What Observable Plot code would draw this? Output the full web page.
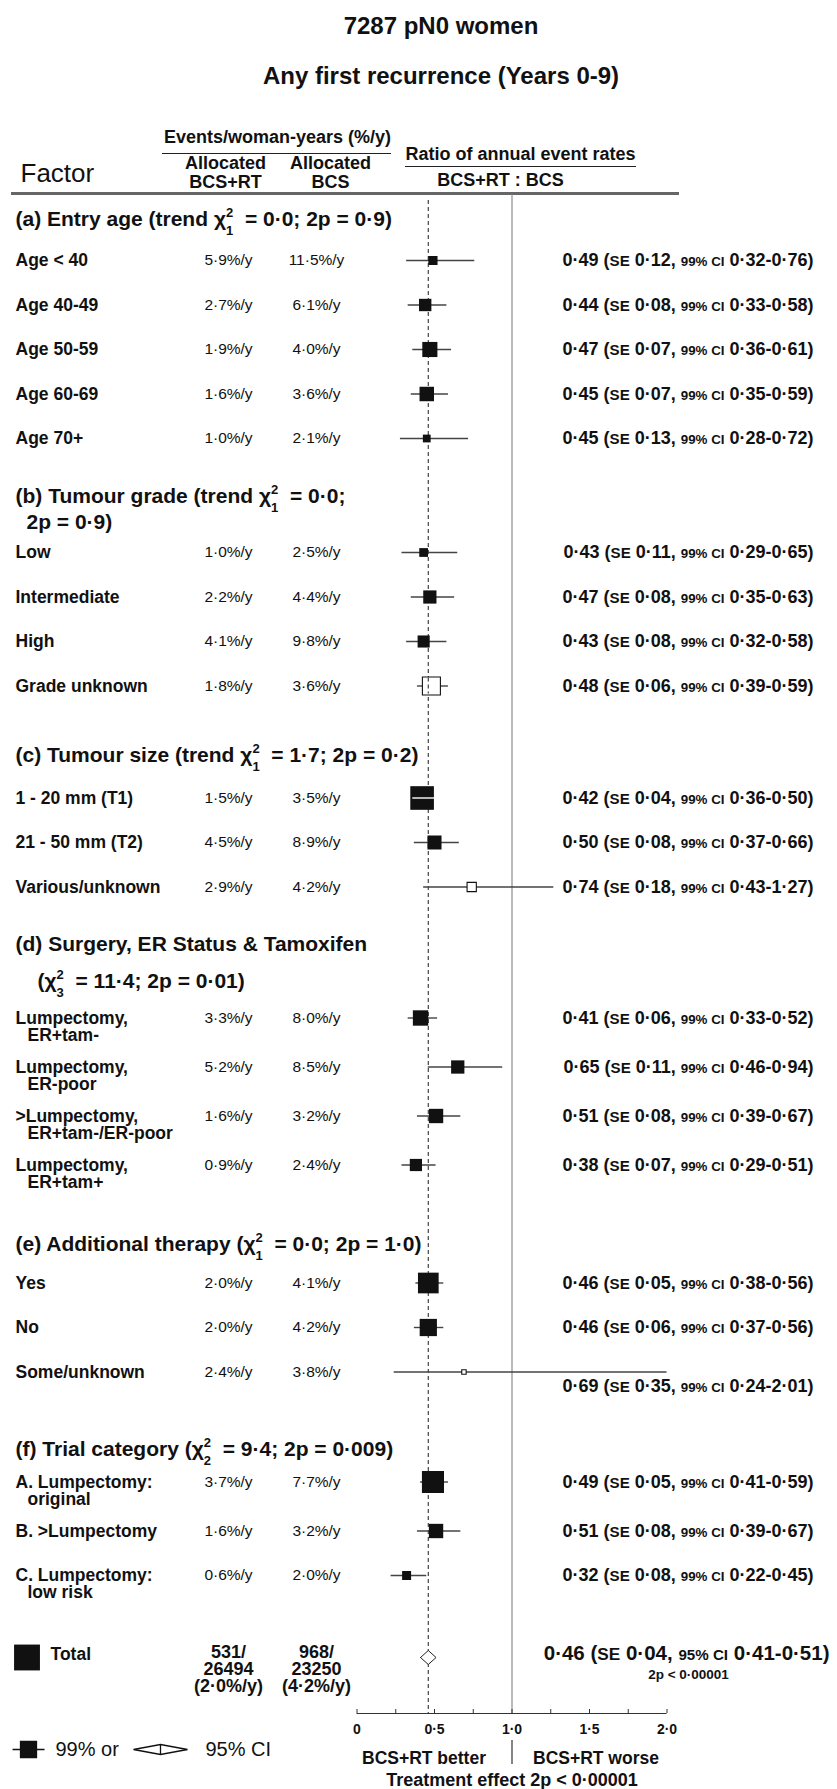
<!DOCTYPE html>
<html>
<head>
<meta charset="utf-8">
<script src="https://cdn.jsdelivr.net/npm/d3@7"></script>
<script src="https://cdn.jsdelivr.net/npm/@observablehq/plot@0.6"></script>
<style>
  body { margin: 0; background: #fff; font-family: "Liberation Sans", Arial, Helvetica, sans-serif; color: #111; }
  #titles { position: relative; width: 837px; height: 110px; }
  #titles div { position: absolute; left: 0; width: 837px; padding-left: 45px; box-sizing: border-box;
                text-align: center; font-weight: bold; line-height: 30px; }
  #chart svg { display: block; }
</style>
</head>
<body>
<div id="titles">
  <div style="top:11px;font-size:24px">7287 pN0 women</div>
  <div style="top:61px;font-size:24px">Any first recurrence (Years 0-9)</div>
</div>
<div id="chart"></div>
<script>
// ---------------- DATA ----------------
const headings = [
  ["(a) Entry age (trend χ{2,1}  = 0·0; 2p = 0·9)"],
  ["(b) Tumour grade (trend χ{2,1}  = 0·0;", "2p = 0·9)"],
  ["(c) Tumour size (trend χ{2,1}  = 1·7; 2p = 0·2)"],
  ["(d) Surgery, ER Status & Tamoxifen", "(χ{2,3}  = 11·4; 2p = 0·01)"],
  ["(e) Additional therapy (χ{2,1}  = 0·0; 2p = 1·0)"],
  ["(f) Trial category (χ{2,2}  = 9·4; 2p = 0·009)"]
];
const rowGroup = [0,0,0,0,0, 1,1,1,1, 2,2,2, 3,3,3,3, 4,4,4, 5,5,5];
const rowLabels = [
  ["Age < 40"], ["Age 40-49"], ["Age 50-59"], ["Age 60-69"], ["Age 70+"],
  ["Low"], ["Intermediate"], ["High"], ["Grade unknown"],
  ["1 - 20 mm (T1)"], ["21 - 50 mm (T2)"], ["Various/unknown"],
  ["Lumpectomy,", "ER+tam-"], ["Lumpectomy,", "ER-poor"], [">Lumpectomy,", "ER+tam-/ER-poor"], ["Lumpectomy,", "ER+tam+"],
  ["Yes"], ["No"], ["Some/unknown"],
  ["A. Lumpectomy:", "original"], ["B. >Lumpectomy"], ["C. Lumpectomy:", "low risk"]
];
const rateRT  = [5.9, 2.7, 1.9, 1.6, 1.0,  1.0, 2.2, 4.1, 1.8,  1.5, 4.5, 2.9,  3.3, 5.2, 1.6, 0.9,  2.0, 2.0, 2.4,  3.7, 1.6, 0.6];
const rateBCS = [11.5, 6.1, 4.0, 3.6, 2.1, 2.5, 4.4, 9.8, 3.6,  3.5, 8.9, 4.2,  8.0, 8.5, 3.2, 2.4,  4.1, 4.2, 3.8,  7.7, 3.2, 2.0];
const ratio   = [0.49, 0.44, 0.47, 0.45, 0.45, 0.43, 0.47, 0.43, 0.48, 0.42, 0.50, 0.74, 0.41, 0.65, 0.51, 0.38, 0.46, 0.46, 0.69, 0.49, 0.51, 0.32];
const se      = [0.12, 0.08, 0.07, 0.07, 0.13, 0.11, 0.08, 0.08, 0.06, 0.04, 0.08, 0.18, 0.06, 0.11, 0.08, 0.07, 0.05, 0.06, 0.35, 0.05, 0.08, 0.08];
const ciLo    = [0.32, 0.33, 0.36, 0.35, 0.28, 0.29, 0.35, 0.32, 0.39, 0.36, 0.37, 0.43, 0.33, 0.46, 0.39, 0.29, 0.38, 0.37, 0.24, 0.41, 0.39, 0.22];
const ciHi    = [0.76, 0.58, 0.61, 0.59, 0.72, 0.65, 0.63, 0.58, 0.59, 0.50, 0.66, 1.27, 0.52, 0.94, 0.67, 0.51, 0.56, 0.56, 2.01, 0.59, 0.67, 0.45];

const totalEvents = [531, 968];
const totalWomanYears = [26494, 23250];
const totalRate = [2.0, 4.2];
const totalRatio = 0.46, totalSE = 0.04, totalLo = 0.41, totalHi = 0.51;
const totalP = "2p < 0·00001";
const treatmentP = "Treatment effect 2p < 0·00001";

const tickValues = [0, 0.5, 1, 1.5, 2];
const tickLabels = ["0", "0·5", "1·0", "1·5", "2·0"];
const minorTicks = [0, 0.25, 0.5, 0.75, 1, 1.25, 1.5, 1.75, 2];

// ---------------- LAYOUT (page pixels) ----------------
const TOP = 110, W = 837, H = 1789 - TOP;
const LAY = {
  firstHeading: 219, row: 44.5, row2: 49,
  headGap: [41, 56, 43, 74, 39, 33],
  line2Gap: [0, 26, 0, 37, 0, 0],
  line2Indent: [0, 26, 0, 37, 0, 0],
  groupGap: [58, 69, 57, 79, 77],
  totalGap: 79, axisGap: 59,
  squarePx: 2.25, textStartValue: 1.35
};

const f1 = v => v.toFixed(1).replace(".", "·");
const f2 = v => v.toFixed(2).replace(".", "·");

const rows = rowLabels.map((lab, i) => ({
  g: rowGroup[i], label: lab[0], sub: lab[1] || null,
  rt: rateRT[i], bcs: rateBCS[i], ratio: ratio[i], se: se[i], lo: ciLo[i], hi: ciHi[i],
  open: /unknown/i.test(lab[0])
}));

const heads = [];
let lastY = 0;
headings.forEach((h, g) => {
  const hy = g === 0 ? LAY.firstHeading : lastY + LAY.groupGap[g - 1];
  heads.push({text: h[0], y: hy - TOP, indent: 15});
  if (h[1]) heads.push({text: h[1], y: hy + LAY.line2Gap[g] - TOP, indent: LAY.line2Indent[g]});
  let ry = hy + LAY.headGap[g];
  rows.filter(r => r.g === g).forEach(r => { r.y = ry - TOP; lastY = ry; ry += r.sub ? LAY.row2 : LAY.row; });
});
const totalY = lastY + LAY.totalGap - TOP;
const axisY = totalY + LAY.axisGap;

const total = {ratio: totalRatio, se: totalSE, lo: totalLo, hi: totalHi, y: totalY};
const diamondH = 7;
const diamond = [
  {x: totalLo, y: totalY + 3}, {x: totalRatio, y: totalY + 3 - diamondH},
  {x: totalHi, y: totalY + 3}, {x: totalRatio, y: totalY + 3 + diamondH}, {x: totalLo, y: totalY + 3}
];

const legendSquare = {draw(ctx) {
  ctx.moveTo(-16, 0); ctx.lineTo(16, 0);
  ctx.moveTo(-8, -8); ctx.lineTo(8, -8); ctx.lineTo(8, 8); ctx.lineTo(-8, 8); ctx.closePath();
}};
const legendDiamond = {draw(ctx) {
  ctx.moveTo(-27, 0); ctx.lineTo(0, -5); ctx.lineTo(27, 0); ctx.lineTo(0, 5); ctx.closePath();
  ctx.moveTo(0, -5); ctx.lineTo(0, 5);
}};

const ink = "#111";
const whiteLine = rows.filter(r => (r.hi - r.lo) * 155 < LAY.squarePx * r.ratio / r.se + 2);
const openCover = rows.filter(r => r.open && Math.abs(r.ratio - totalRatio) * 155 < LAY.squarePx * r.ratio / r.se / 2);

const headingMarks = d3.groups(heads, d => d.indent).map(([indent, list]) =>
  Plot.text(list, {frameAnchor: "left", dx: indent, y: "y", text: "text", fontWeight: "bold", fontSize: 21, textAnchor: "start"}));

const chart = Plot.plot({
  width: W, height: H, margin: 0,
  x: {domain: [0, 2], range: [356.5, 666.5], axis: null},
  y: {type: "identity", axis: null},
  r: {type: "linear", domain: [0, 10], range: [0, 10 * LAY.squarePx / Math.sqrt(Math.PI)]},
  style: {fontFamily: "'Liberation Sans', Arial, Helvetica, sans-serif", color: ink, background: "white", overflow: "visible"},
  marks: [
    // column headers
    Plot.text(["Events/woman-years (%/y)"], {frameAnchor: "left", dx: 277, textAnchor: "middle", y: 137 - TOP, fontWeight: "bold", fontSize: 18}),
    Plot.ruleY([153 - TOP], {insetLeft: 162, insetRight: W - 391, stroke: "#222", strokeWidth: 1.2}),
    Plot.text(["Allocated\nBCS+RT"], {frameAnchor: "left", dx: 225, textAnchor: "middle", y: 172 - TOP, fontWeight: "bold", fontSize: 18, lineHeight: 1.05}),
    Plot.text(["Allocated\nBCS"], {frameAnchor: "left", dx: 330, textAnchor: "middle", y: 172 - TOP, fontWeight: "bold", fontSize: 18, lineHeight: 1.05}),
    Plot.text(["Ratio of annual event rates"], {frameAnchor: "left", dx: 520, textAnchor: "middle", y: 154 - TOP, fontWeight: "bold", fontSize: 18}),
    Plot.ruleY([166 - TOP], {insetLeft: 405, insetRight: W - 636, stroke: "#222", strokeWidth: 1.2}),
    Plot.text(["BCS+RT : BCS"], {frameAnchor: "left", dx: 500, textAnchor: "middle", y: 180 - TOP, fontWeight: "bold", fontSize: 18}),
    Plot.text(["Factor"], {frameAnchor: "left", dx: 20, y: 173 - TOP, fontSize: 26}),
    Plot.ruleY([193 - TOP], {insetLeft: 11, insetRight: W - 679, stroke: "#666", strokeWidth: 3}),

    // reference lines
    Plot.ruleX([1], {y1: 194 - TOP, y2: axisY, stroke: "#8a8a8a", strokeWidth: 1.2}),
    Plot.ruleX([totalRatio], {y1: 200 - TOP, y2: axisY, stroke: "#444", strokeWidth: 1.2, strokeDasharray: "4,3"}),

    // group headings
    ...headingMarks,

    // row labels and values
    Plot.text(rows, {frameAnchor: "left", dx: 15, y: "y", text: "label", fontWeight: "bold", fontSize: 17.5}),
    Plot.text(rows.filter(r => r.sub), {frameAnchor: "left", dx: 27, y: d => d.y + 17, text: "sub", fontWeight: "bold", fontSize: 17.5}),
    Plot.text(rows, {frameAnchor: "left", dx: 228, textAnchor: "middle", y: "y", text: d => `${f1(d.rt)}%/y`, fontSize: 15.5}),
    Plot.text(rows, {frameAnchor: "left", dx: 316, textAnchor: "middle", y: "y", text: d => `${f1(d.bcs)}%/y`, fontSize: 15.5}),

    // confidence intervals and squares
    Plot.ruleY(rows, {y: "y", x1: "lo", x2: d => Math.min(d.hi, 2), stroke: "#444", strokeWidth: 1.4}),
    Plot.dot(rows.filter(r => !r.open), {x: "ratio", y: "y", r: d => d.ratio / d.se, symbol: "square", fill: ink, stroke: "none"}),
    Plot.dot(rows.filter(r => r.open), {x: "ratio", y: "y", r: d => d.ratio / d.se, symbol: "square", fill: "white", stroke: ink, strokeWidth: 1.1}),
    Plot.ruleX(openCover, {x: () => totalRatio, y1: d => d.y - LAY.squarePx * d.ratio / d.se / 2 + 1, y2: d => d.y + LAY.squarePx * d.ratio / d.se / 2 - 1, stroke: "#444", strokeWidth: 1.2, strokeDasharray: "4,3"}),
    Plot.ruleY(whiteLine, {y: "y", x1: "lo", x2: "hi", stroke: "white", strokeWidth: 1.4}),

    // right-hand statistics
    Plot.text(rows, {frameAnchor: "left", dx: 813, textAnchor: "end", y: d => d.y + (d.hi > LAY.textStartValue ? 14 : 0),
      text: d => `${f2(d.ratio)} (#SE# ${f2(d.se)}, |99% CI| ${f2(d.lo)}-${f2(d.hi)})`, fontWeight: "bold", fontSize: 18}),

    // total
    Plot.dot([total], {frameAnchor: "left", dx: 26.5, y: d => d.y + 3, r: d => d.ratio / d.se, symbol: "square", fill: ink}),
    Plot.text(["Total"], {frameAnchor: "left", dx: 50, y: totalY, fontWeight: "bold", fontSize: 17.5}),
    Plot.text([0], {frameAnchor: "left", dx: 228, textAnchor: "middle", y: totalY + 15, lineHeight: 0.95,
      text: () => `${totalEvents[0]}/\n${totalWomanYears[0]}\n(${f1(totalRate[0])}%/y)`, fontWeight: "bold", fontSize: 18}),
    Plot.text([1], {frameAnchor: "left", dx: 316, textAnchor: "middle", y: totalY + 15, lineHeight: 0.95,
      text: () => `${totalEvents[1]}/\n${totalWomanYears[1]}\n(${f1(totalRate[1])}%/y)`, fontWeight: "bold", fontSize: 18}),
    Plot.line(diamond, {x: "x", y: "y", fill: "white", stroke: "#222", strokeWidth: 1}),
    Plot.text([total], {frameAnchor: "left", dx: 829, textAnchor: "end", y: totalY - 1,
      text: d => `${f2(d.ratio)} (#SE# ${f2(d.se)}, |95% CI| ${f2(d.lo)}-${f2(d.hi)})`, fontWeight: "bold", fontSize: 20.5}),
    Plot.text([totalP], {frameAnchor: "left", dx: 688, textAnchor: "middle", y: totalY + 20, fontWeight: "bold", fontSize: 13.5}),

    // x axis
    Plot.ruleY([axisY], {x1: 0, x2: 2, stroke: "#333", strokeWidth: 1.2}),
    Plot.ruleX(minorTicks, {x: d => d, y1: axisY - 4, y2: axisY, stroke: "#333", strokeWidth: 1}),
    Plot.text(tickValues, {x: d => d, y: axisY + 16, text: (d, i) => tickLabels[i], fontWeight: "bold", fontSize: 14}),
    Plot.text(["BCS+RT better"], {x: () => 1, y: axisY + 45, dx: -26, textAnchor: "end", fontWeight: "bold", fontSize: 17.5}),
    Plot.text(["BCS+RT worse"], {x: () => 1, y: axisY + 45, dx: 21, textAnchor: "start", fontWeight: "bold", fontSize: 17.5}),
    Plot.ruleX([1], {y1: axisY + 27, y2: axisY + 51, stroke: "#333", strokeWidth: 1.2}),
    Plot.text([treatmentP], {x: () => 1, y: axisY + 67, fontWeight: "bold", fontSize: 18}),

    // legend
    Plot.dot([0], {frameAnchor: "left", dx: 28, y: axisY + 36, symbol: legendSquare, fill: ink, stroke: ink, strokeWidth: 1.3}),
    Plot.text(["99% or"], {frameAnchor: "left", dx: 55, y: axisY + 36, fontSize: 20}),
    Plot.dot([0], {frameAnchor: "left", dx: 160, y: axisY + 36, symbol: legendDiamond, fill: "white", stroke: ink, strokeWidth: 1.3}),
    Plot.text(["95% CI"], {frameAnchor: "left", dx: 205, y: axisY + 36, fontSize: 20})
  ]
});

// rich text: χ with stacked super/subscript, smaller "SE" and "CI" parts
function richify(svg) {
  const re = /χ\{(\w),(\w)\}|#([^#]+)#|\|([^|]+)\|/g;
  svg.querySelectorAll("text").forEach(el => {
    const src = el.textContent;
    if (!/χ\{|#SE#|\|/.test(src)) return;
    const g = el.closest("[font-size]");
    const base = g ? parseFloat(g.getAttribute("font-size")) : 17;
    while (el.firstChild) el.removeChild(el.firstChild);
    re.lastIndex = 0;
    let last = 0, m, pending = 0;
    const add = (s, a = {}) => {
      const t = document.createElementNS("http://www.w3.org/2000/svg", "tspan");
      if (pending) { a.dy = (a.dy || 0) + pending; pending = 0; }
      for (const k in a) t.setAttribute(k, a[k]);
      t.textContent = s;
      el.appendChild(t);
    };
    while ((m = re.exec(src))) {
      if (m.index > last) add(src.slice(last, m.index));
      if (m[1]) {
        const s = 0.62 * base;
        add("χ");
        add(m[1], {"font-size": s, dy: -0.42 * base});
        add(m[2], {"font-size": s, dx: -0.556 * s, dy: 0.84 * base});
        pending = -0.42 * base;
      } else if (m[3]) {
        add(m[3], {"font-size": 0.84 * base});
      } else {
        add(m[4], {"font-size": 0.74 * base});
      }
      last = re.lastIndex;
    }
    if (last < src.length) add(src.slice(last));
  });
}
richify(chart);

document.getElementById("chart").appendChild(chart);
</script>
</body>
</html>
